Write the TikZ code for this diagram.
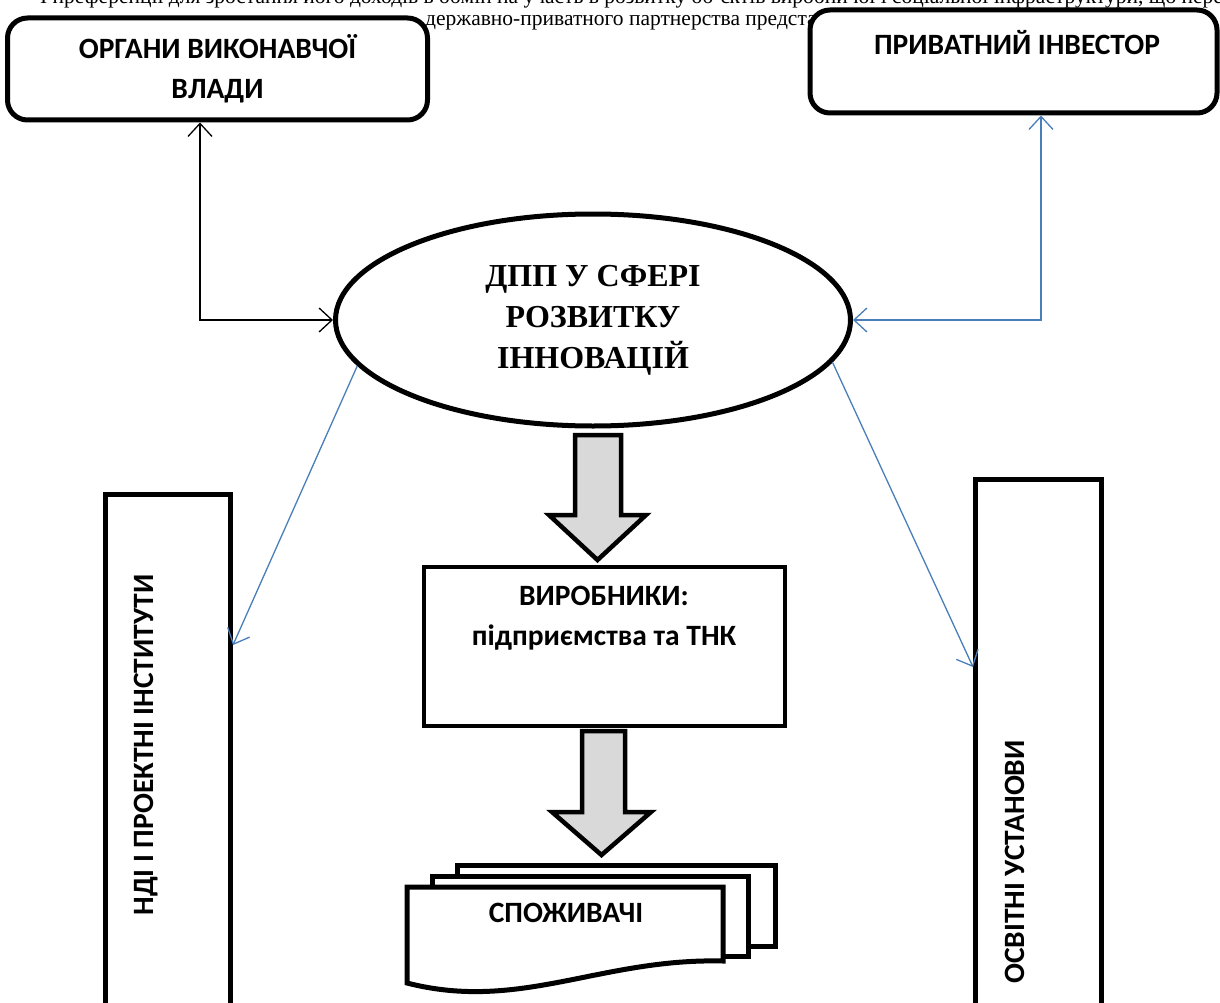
\documentclass[tikz,border=0pt]{standalone}
\usepackage{fontspec}
\setmainfont{Liberation Serif}
\newfontfamily\calib{Carlito}
\usetikzlibrary{arrows.meta,shapes.geometric,calc}
\definecolor{wblue}{RGB}{74,126,187}
\definecolor{agray}{RGB}{217,217,217}
\begin{document}
\begin{tikzpicture}[x=1pt,y=-1pt,
  boxtxt/.style={font=\calib\bfseries\fontsize{29.5}{40}\selectfont, align=center, inner sep=0pt},
  thickbox/.style={draw, line width=5pt, fill=white, inner sep=0pt},
  twoway/.style={line width=1.3pt, {Straight Barb[length=13pt,width=24pt]}-{Straight Barb[length=13pt,width=24pt]}},
  oneway/.style={line width=1.3pt, -{Straight Barb[length=13pt,width=24pt]}},
  garrow/.style={draw, fill=agray, line width=4.5pt, line join=miter},
  docline/.style={draw, fill=white, line width=5pt, line join=miter},
  toptxt/.style={anchor=base west, font=\fontsize{21.5}{24}\selectfont, inner sep=0pt}
]
\useasboundingbox (0,0) rectangle (1220,1003);
\clip (0,0) rectangle (1220,1003);

% running text of the page behind the diagram
\node[toptxt] (t1) at (40,4) {І преференції для зростання його доходів в обмін на участь в розвитку об’єктів виробничої і соціальної інфраструктури, що пере};
\node[toptxt] (t2) at (425,26) {державно-приватного партнерства предста};

% top boxes
\node[thickbox, rounded corners=20pt, minimum width=420pt, minimum height=102pt, boxtxt] (ov) at (217.5,69) {ОРГАНИ ВИКОНАВЧОЇ\\ВЛАДИ};
\node[thickbox, rounded corners=20pt, minimum width=407pt, minimum height=103pt] (pi) at (1013.5,61.5) {};
\node[boxtxt] (pit) at (1017,43) {ПРИВАТНИЙ ІНВЕСТОР};

% central ellipse
\node[ellipse, draw, line width=5pt, fill=white, minimum width=515pt, minimum height=212pt, inner sep=0pt, align=center,
      font=\bfseries\fontsize{32}{41}\selectfont] (ell) at (593,320) {ДПП У СФЕРІ\\РОЗВИТКУ\\ІННОВАЦІЙ};

% producers box
\node[thickbox, line width=4.5pt, minimum width=361pt, minimum height=159pt] (vyr) at (604.5,646.5) {};
\node[boxtxt] (vyrt) at (604,618) {ВИРОБНИКИ:\\підприємства та ТНК};

% vertical boxes
\node[thickbox, minimum width=125pt, minimum height=515pt] (ndi) at (168,752) {};
\node[boxtxt, rotate=90] (ndit) at (146,745) {НДІ І ПРОЕКТНІ ІНСТИТУТИ};
\node[thickbox, minimum width=126pt, minimum height=531pt] (osv) at (1038.5,745) {};
\node[boxtxt, rotate=90] (osvt) at (1015,862) {ОСВІТНІ УСТАНОВИ};

% block arrows
\draw[garrow] (575,435) -- (621,435) -- (621,515) -- (646,515) -- (597.5,560) -- (549,515) -- (575,515) -- cycle;
\draw[garrow] (582,731) -- (625,731) -- (625,812) -- (651,812) -- (601.5,855) -- (552,812) -- (582,812) -- cycle;

% consumers (multi-document)
\draw[docline] (457,865) rectangle (775,946);
\draw[docline] (432,876) rectangle (748,956);
\draw[docline] (407,887) -- (723,887) -- (723,961) .. controls (600,958) and (520,1012) .. (407,983) -- cycle;
\node[boxtxt] (spo) at (566,913) {СПОЖИВАЧІ};

% connectors
\draw[twoway] ($(ov.south)+(-17.5,0)$) |- (ell.west);
\draw[twoway, wblue] ($(pi.south)+(27.5,0)$) |- (ell.east);
\draw[oneway, wblue] (ell.191) -- ($(ndi.north east)+(0,153)$);
\draw[oneway, wblue] (ell.-10.5) -- ($(osv.north west)+(0,190)$);
\end{tikzpicture}
\end{document}
